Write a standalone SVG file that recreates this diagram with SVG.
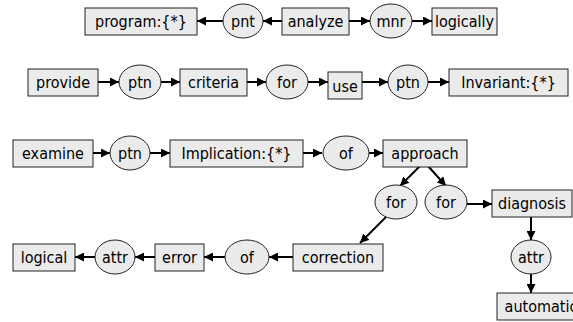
<svg xmlns="http://www.w3.org/2000/svg" width="573" height="322" viewBox="0 0 573 322">
<defs>
<marker id="ah" viewBox="0 0 10 10" refX="10" refY="5" markerWidth="9" markerHeight="9" markerUnits="userSpaceOnUse" orient="auto"><path d="M0,0 L10,5 L0,10 z" fill="#000"/></marker>
<style>
.b{fill:#ebebeb;stroke:#222;stroke-width:1}
.e{fill:#ebebeb;stroke:#222;stroke-width:1}
.t{font-family:"DejaVu Sans Condensed","DejaVu Sans",sans-serif;font-size:16px;fill:#000;text-anchor:middle}
.c{stroke:#000;stroke-width:2;fill:none;marker-end:url(#ah)}
</style>
</defs>
<rect width="573" height="322" fill="#fff"/>
<g id="connectors">
<line class="c" x1="223" y1="21" x2="197" y2="21"/>
<line class="c" x1="282" y1="21" x2="263" y2="21"/>
<line class="c" x1="349" y1="21" x2="370" y2="21"/>
<line class="c" x1="412" y1="21" x2="432" y2="21"/>
<line class="c" x1="98" y1="82" x2="119" y2="82"/>
<line class="c" x1="161" y1="82" x2="180" y2="82"/>
<line class="c" x1="247" y1="82" x2="266" y2="82"/>
<line class="c" x1="308" y1="82" x2="328" y2="82"/>
<line class="c" x1="362" y1="82" x2="388" y2="82"/>
<line class="c" x1="428" y1="82" x2="449" y2="82"/>
<line class="c" x1="93" y1="153" x2="110" y2="153"/>
<line class="c" x1="150" y1="153" x2="170" y2="153"/>
<line class="c" x1="303" y1="153" x2="322" y2="153"/>
<line class="c" x1="369" y1="153" x2="383" y2="153"/>
<line class="c" x1="420" y1="166" x2="400" y2="186"/>
<line class="c" x1="428" y1="166" x2="446" y2="186"/>
<line class="c" x1="467" y1="204" x2="492" y2="204"/>
<line class="c" x1="386" y1="217" x2="360" y2="243"/>
<line class="c" x1="531" y1="217" x2="531" y2="240"/>
<line class="c" x1="531" y1="274" x2="531" y2="293"/>
<line class="c" x1="293" y1="257" x2="269" y2="257"/>
<line class="c" x1="225" y1="257" x2="204" y2="257"/>
<line class="c" x1="155" y1="257" x2="135" y2="257"/>
<line class="c" x1="95" y1="257" x2="75" y2="257"/>
</g>
<g id="n-program"><rect class="b" x="85" y="8" width="112" height="27"/><text class="t" x="141" y="27">program:{*}</text></g>
<g id="n-pnt"><ellipse class="e" cx="243" cy="21" rx="20" ry="17"/><text class="t" x="243" y="27">pnt</text></g>
<g id="n-analyze"><rect class="b" x="282" y="8" width="67" height="27"/><text class="t" x="315.5" y="27">analyze</text></g>
<g id="n-mnr"><ellipse class="e" cx="391" cy="21" rx="21" ry="17"/><text class="t" x="391" y="27">mnr</text></g>
<g id="n-logically"><rect class="b" x="432" y="8" width="65" height="27"/><text class="t" x="464.5" y="27">logically</text></g>
<g id="n-provide"><rect class="b" x="28" y="69" width="70" height="27"/><text class="t" x="63" y="88">provide</text></g>
<g id="n-ptn1"><ellipse class="e" cx="140" cy="82" rx="21" ry="17"/><text class="t" x="140" y="88">ptn</text></g>
<g id="n-criteria"><rect class="b" x="180" y="69" width="67" height="27"/><text class="t" x="213.5" y="88">criteria</text></g>
<g id="n-for1"><ellipse class="e" cx="287" cy="82" rx="21" ry="17"/><text class="t" x="287" y="88">for</text></g>
<g id="n-use"><rect class="b" x="328" y="72" width="34" height="27"/><text class="t" x="345" y="92">use</text></g>
<g id="n-ptn2"><ellipse class="e" cx="408" cy="82" rx="20" ry="17"/><text class="t" x="408" y="88">ptn</text></g>
<g id="n-invariant"><rect class="b" x="449" y="69" width="119" height="27"/><text class="t" x="508.5" y="88">Invariant:{*}</text></g>
<g id="n-examine"><rect class="b" x="13" y="140" width="80" height="27"/><text class="t" x="53" y="159">examine</text></g>
<g id="n-ptn3"><ellipse class="e" cx="130" cy="153" rx="20" ry="17"/><text class="t" x="130" y="159">ptn</text></g>
<g id="n-implication"><rect class="b" x="170" y="140" width="133" height="27"/><text class="t" x="236.5" y="159">Implication:{*}</text></g>
<g id="n-of1"><ellipse class="e" cx="346" cy="153" rx="23" ry="17"/><text class="t" x="346" y="159">of</text></g>
<g id="n-approach"><rect class="b" x="383" y="140" width="84" height="27"/><text class="t" x="425" y="159">approach</text></g>
<g id="n-for2"><ellipse class="e" cx="396" cy="202" rx="21" ry="17"/><text class="t" x="396" y="208">for</text></g>
<g id="n-for3"><ellipse class="e" cx="446" cy="202" rx="21" ry="17"/><text class="t" x="446" y="208">for</text></g>
<g id="n-diagnosis"><rect class="b" x="492" y="190" width="80" height="27"/><text class="t" x="532" y="209">diagnosis</text></g>
<g id="n-attr2"><ellipse class="e" cx="531" cy="257" rx="20" ry="17"/><text class="t" x="531" y="263">attr</text></g>
<g id="n-automatic"><rect class="b" x="497" y="293" width="84" height="27"/><text class="t" x="541" y="312">automatic</text></g>
<g id="n-correction"><rect class="b" x="293" y="244" width="90" height="27"/><text class="t" x="338" y="263">correction</text></g>
<g id="n-of2"><ellipse class="e" cx="247" cy="257" rx="22" ry="17"/><text class="t" x="247" y="263">of</text></g>
<g id="n-error"><rect class="b" x="155" y="244" width="49" height="27"/><text class="t" x="179.5" y="263">error</text></g>
<g id="n-attr1"><ellipse class="e" cx="115" cy="257" rx="20" ry="17"/><text class="t" x="115" y="263">attr</text></g>
<g id="n-logical"><rect class="b" x="13" y="244" width="62" height="27"/><text class="t" x="44" y="263">logical</text></g>
</svg>
